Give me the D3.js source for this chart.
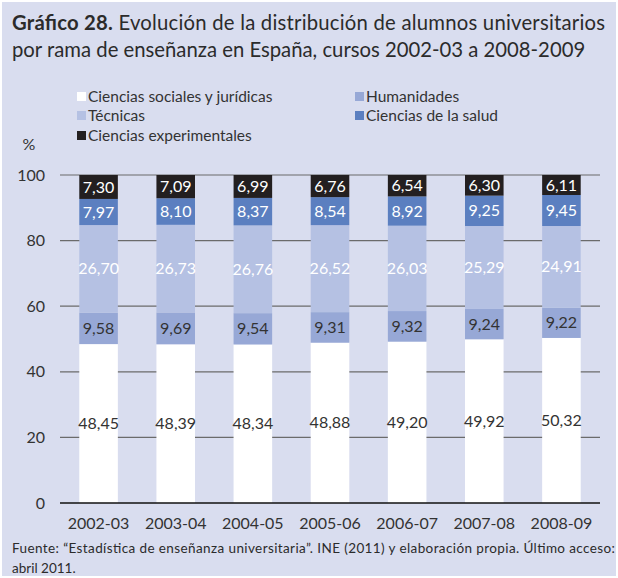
<!DOCTYPE html>
<html>
<head>
<meta charset="utf-8">
<script src="https://cdn.jsdelivr.net/npm/d3@7"></script>
<style>
body { margin: 0; background: #fff; }
svg { display: block; font-family: Lato, "Open Sans", sans-serif; }
</style>
</head>
<body>
<script>

var courses = ["2002-03", "2003-04", "2004-05", "2005-06", "2006-07", "2007-08", "2008-09"];
var seriesNames = ["Ciencias sociales y jurídicas", "Humanidades", "Técnicas", "Ciencias de la salud", "Ciencias experimentales"];
var sociales = [48.45, 48.39, 48.34, 48.88, 49.20, 49.92, 50.32];
var humanidades = [9.58, 9.69, 9.54, 9.31, 9.32, 9.24, 9.22];
var tecnicas = [26.70, 26.73, 26.76, 26.52, 26.03, 25.29, 24.91];
var salud = [7.97, 8.10, 8.37, 8.54, 8.92, 9.25, 9.45];
var experimentales = [7.30, 7.09, 6.99, 6.76, 6.54, 6.30, 6.11];
var yTicks = [0, 20, 40, 60, 80, 100];

var colors = ["#ffffff", "#97a8d6", "#b5c1e3", "#5b7fc0", "#231f20"];
var labelColors = ["#333", "#333", "#fff", "#fff", "#fff"];

var width = 618, height = 578;
var margin = {left: 60, right: 18, top: 175, bottom: 75};

// build rows for the stack
var seriesData = [sociales, humanidades, tecnicas, salud, experimentales];
var rows = courses.map(function(c, i){
    var r = {course: c};
    seriesNames.forEach(function(s, k){ r[s] = seriesData[k][i]; });
    return r;
});
var stacked = d3.stack().keys(seriesNames)(rows);

var svg = d3.select("body").append("svg").attr("width", width).attr("height", height);

svg.append("rect").attr("x", 2).attr("y", 2).attr("width", width - 4).attr("height", height - 4)
    .attr("fill", "#d9ddef");

// TITLE
var title = svg.append("text").attr("x", 12).attr("y", 30).attr("font-size", 20.3).attr("fill", "#2b2b2b")
    .attr("textLength", 593).attr("lengthAdjust", "spacing");
title.append("tspan").attr("font-weight", "bold").text("Gráfico 28.");
title.append("tspan").text(" Evolución de la distribución de alumnos universitarios");
svg.append("text").attr("x", 12).attr("y", 57).attr("font-size", 20.3).attr("fill", "#2b2b2b")
    .text("por rama de enseñanza en España, cursos 2002-03 a 2008-2009");

// SCALES
var xScale = d3.scaleBand().domain(courses).range([margin.left, width - margin.right])
    .paddingInner(0.5).paddingOuter(0.25);
var yScale = d3.scaleLinear().domain([0, 100]).range([height - margin.bottom, margin.top]);

// GRID
svg.append("g").selectAll("line").data(yTicks.filter(function(d){return d > 0;})).enter().append("line")
    .attr("x1", margin.left).attr("x2", width - margin.right)
    .attr("y1", function(d){return yScale(d);}).attr("y2", function(d){return yScale(d);})
    .attr("stroke", "#6b6b6b").attr("stroke-width", 1.2);

// BARS
var layers = svg.append("g").selectAll("g").data(stacked).enter().append("g")
    .attr("fill", function(d, k){return colors[k];});
layers.selectAll("rect").data(function(d){return d;}).enter().append("rect")
    .attr("x", function(d){return xScale(d.data.course);})
    .attr("width", xScale.bandwidth())
    .attr("y", function(d){return yScale(d[1]);})
    .attr("height", function(d){return yScale(d[0]) - yScale(d[1]);});

// LABELS
var fmt = function(v){return v.toFixed(2).replace(".", ",");};
stacked.forEach(function(layer, k){
    svg.append("g").selectAll("text").data(layer).enter().append("text")
        .attr("x", function(d){return xScale(d.data.course) + xScale.bandwidth() / 2;})
        .attr("y", function(d){return yScale((d[0] + d[1]) / 2);})
        .attr("dy", "0.35em")
        .attr("text-anchor", "middle")
        .attr("font-size", 16)
        .attr("fill", labelColors[k])
        .text(function(d){return fmt(d[1] - d[0]);});
});

// AXES
svg.append("line").attr("x1", margin.left).attr("x2", width - margin.right)
    .attr("y1", yScale(0)).attr("y2", yScale(0)).attr("stroke", "#111").attr("stroke-width", 1.5);

svg.append("g").selectAll("text").data(yTicks).enter().append("text")
    .attr("x", 45).attr("y", function(d){return yScale(d);}).attr("dy", "0.35em")
    .attr("text-anchor", "end").attr("font-size", 16).attr("fill", "#333")
    .text(function(d){return d;});

svg.append("g").selectAll("text").data(courses).enter().append("text")
    .attr("x", function(d){return xScale(d) + xScale.bandwidth() / 2;}).attr("y", 529)
    .attr("text-anchor", "middle").attr("font-size", 16).attr("fill", "#333")
    .text(function(d){return d;});

svg.append("text").attr("x", 29).attr("y", 150).attr("text-anchor", "middle")
    .attr("font-size", 16).attr("fill", "#333").text("%");

// LEGEND
var legendPos = [[77, 97], [355, 97], [77, 116], [355, 116], [77, 136]];
var legendOrder = [0, 1, 2, 3, 4];
var legend = svg.append("g").selectAll("g").data(legendOrder).enter().append("g")
    .attr("transform", function(k, i){return "translate(" + legendPos[i][0] + "," + legendPos[i][1] + ")";});
legend.append("rect").attr("x", 0).attr("y", -5).attr("width", 9).attr("height", 9)
    .attr("fill", function(k){return colors[k];});
legend.append("text").attr("x", 11).attr("dy", "0.35em").attr("font-size", 15.5).attr("fill", "#333")
    .text(function(k){return seriesNames[k];});

// FOOTER
svg.append("text").attr("x", 12).attr("y", 553).attr("font-size", 13.5).attr("fill", "#2b2b2b")
    .attr("textLength", 603).attr("lengthAdjust", "spacing")
    .text("Fuente: “Estadística de enseñanza universitaria”. INE (2011) y elaboración propia. Último acceso:");
svg.append("text").attr("x", 12).attr("y", 573).attr("font-size", 13.5).attr("fill", "#2b2b2b")
    .text("abril 2011.");

</script>
</body>
</html>
